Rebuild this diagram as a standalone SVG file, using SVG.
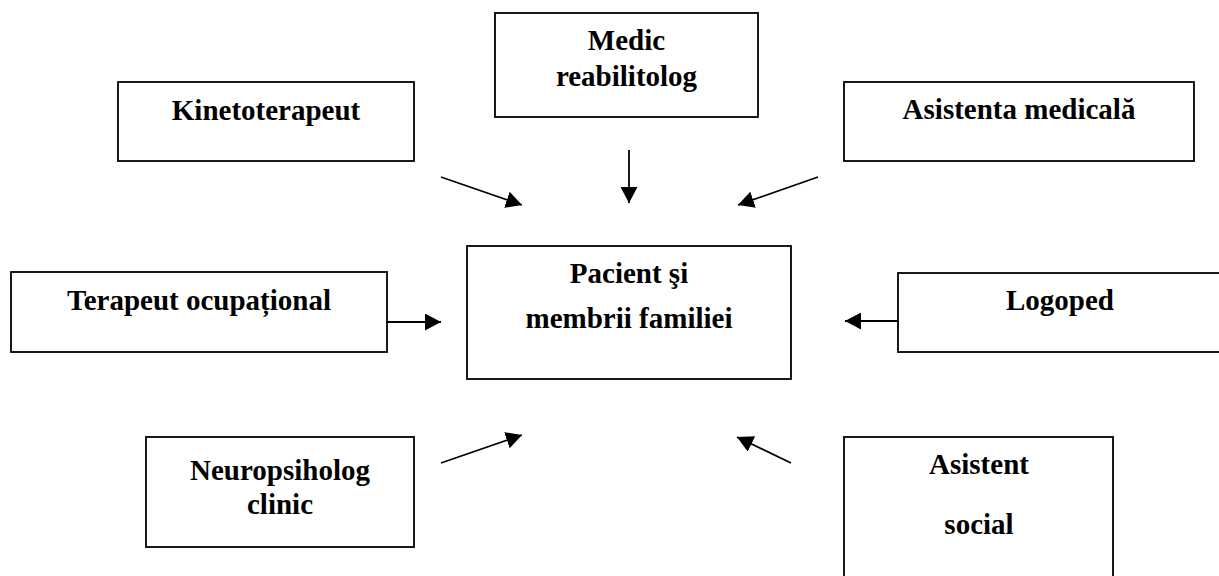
<svg xmlns="http://www.w3.org/2000/svg" width="1219" height="576" viewBox="0 0 1219 576">
<style>
.box{fill:#fff;stroke:#000;stroke-width:1.8}
.t{font-family:"Liberation Serif","Times New Roman",serif;font-weight:bold;font-size:29px;text-anchor:middle;fill:#000}
.c{stroke:#000;stroke-width:1.8;fill:none;marker-end:url(#ah)}
</style>
<defs>
<marker id="ah" markerUnits="userSpaceOnUse" markerWidth="17" markerHeight="17" refX="16" refY="8.5" orient="auto">
<path d="M0,0 L16,8.5 L0,17 z" fill="#000"/>
</marker>
</defs>
<rect width="1219" height="576" fill="#fff"/>
<g id="medic">
<rect class="box" x="495" y="13" width="263" height="104"/>
<text class="t" x="626.5" y="50">Medic</text>
<text class="t" x="626.5" y="86">reabilitolog</text>
</g>
<g id="kineto">
<rect class="box" x="118" y="82" width="296" height="79"/>
<text class="t" x="266" y="120">Kinetoterapeut</text>
</g>
<g id="asistenta">
<rect class="box" x="844" y="82" width="350" height="79"/>
<text class="t" x="1019" y="119">Asistenta medicală</text>
</g>
<g id="pacient">
<rect class="box" x="467" y="246" width="324" height="133"/>
<text class="t" x="629" y="283">Pacient şi</text>
<text class="t" x="629" y="328">membrii familiei</text>
</g>
<g id="terapeut">
<rect class="box" x="11" y="272" width="376" height="80"/>
<text class="t" x="199" y="310">Terapeut ocupațional</text>
</g>
<g id="logoped">
<rect class="box" x="898" y="273" width="324" height="79"/>
<text class="t" x="1060" y="310">Logoped</text>
</g>
<g id="neuro">
<rect class="box" x="146" y="437" width="268" height="110"/>
<text class="t" x="280" y="480">Neuropsiholog</text>
<text class="t" x="280" y="514">clinic</text>
</g>
<g id="social">
<rect class="box" x="844" y="437" width="269" height="160"/>
<text class="t" x="979" y="474">Asistent</text>
<text class="t" x="979" y="534">social</text>
</g>
<g id="connectors">
<line class="c" x1="441" y1="177" x2="522" y2="205"/>
<line class="c" x1="629" y1="150" x2="629" y2="203"/>
<line class="c" x1="818" y1="177" x2="738" y2="205"/>
<line class="c" x1="387" y1="322" x2="441" y2="322"/>
<line class="c" x1="898" y1="321" x2="845" y2="321"/>
<line class="c" x1="441" y1="463" x2="522" y2="435"/>
<line class="c" x1="791" y1="463" x2="737" y2="437"/>
</g>
</svg>
